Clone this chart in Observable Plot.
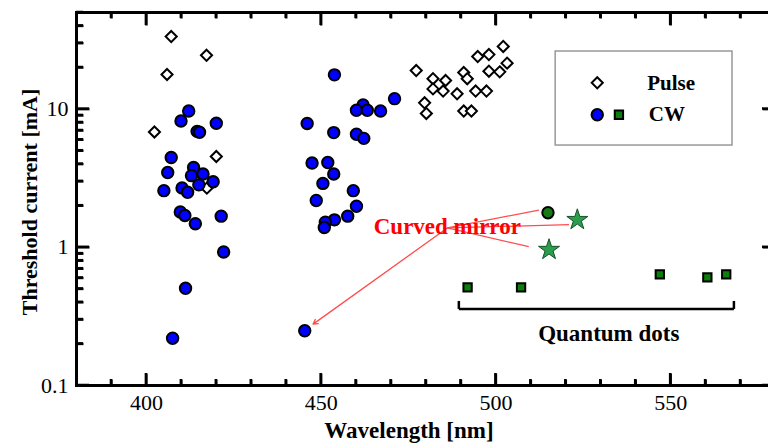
<!DOCTYPE html>
<html>
<head>
<meta charset="utf-8">
<script src="https://cdn.jsdelivr.net/npm/d3@7"></script>
<script src="https://cdn.jsdelivr.net/npm/@observablehq/plot@0.6"></script>
<style>
  html, body { margin: 0; padding: 0; background: #fff; }
</style>
</head>
<body>
<div id="chart"></div>
<script>
// Threshold current of GaN-based lasers vs. emission wavelength

// Pulsed operation: wavelength (nm) and threshold current (mA)
const pulseWavelength = [407.1, 417.2, 405.9, 402.3, 420.0, 417.3,
  477.2, 482.0, 485.6, 482.0, 484.9, 488.9, 490.8, 491.8, 479.6, 480.1,
  490.8, 494.2, 497.3, 493.0, 494.8, 498.0, 502.1, 498.0, 501.1, 503.2];
const pulseCurrent = [33.5, 24.5, 17.8, 6.83, 4.54, 2.68,
  19.0, 16.6, 16.1, 14.0, 13.5, 12.9, 18.4, 16.6, 11.1, 9.3,
  9.68, 13.5, 13.5, 9.68, 24.0, 24.8, 28.4, 18.8, 18.6, 21.5];

// CW operation, quantum wells
const cwWavelength = [412.1, 409.9, 414.5, 415.2, 420.0, 407.1, 406.1, 405.0,
  413.5, 412.9, 416.2, 419.1, 415.0, 410.2, 411.8,
  409.7, 411.0, 414.0, 421.4, 422.1, 411.2, 407.5,
  453.8, 471.0, 462.0, 460.1, 463.2, 467.0, 446.0, 453.6, 460.1, 462.2,
  447.4, 451.9, 453.6, 450.5, 459.2, 448.6, 460.1, 457.6, 453.8, 451.2,
  450.9, 445.3];
const cwCurrent = [9.68, 8.2, 6.9, 6.8, 7.89, 4.46, 3.48, 2.57,
  3.78, 3.3, 3.39, 2.98, 2.83, 2.69, 2.5,
  1.8, 1.7, 1.48, 1.68, 0.925, 0.505, 0.22,
  17.7, 11.9, 10.7, 9.8, 9.8, 9.68, 7.87, 6.76, 6.58, 6.14,
  4.07, 4.11, 3.39, 2.9, 2.57, 2.18, 1.98, 1.68, 1.58, 1.52,
  1.39, 0.249];

// CW operation, quantum dots
const qdWavelength = [491.9, 507.2, 546.9, 560.5, 565.9];
const qdCurrent = [0.513, 0.513, 0.636, 0.605, 0.636];

// Curved-mirror devices
const mirrorDotWavelength = [514.9];
const mirrorDotCurrent = [1.78];
const mirrorStarWavelength = [523.3, 515.2];
const mirrorStarCurrent = [1.58, 0.96];

// Axis ticks
const xMajor = [400, 450, 500, 550];
const xMinor = [390, 410, 420, 430, 440, 460, 470, 480, 490, 510, 520, 530, 540, 560, 570];
const yMajor = [0.1, 1, 10];
const yMinor = [0.2, 0.3, 0.4, 0.5, 0.6, 0.7, 0.8, 0.9, 2, 3, 4, 5, 6, 7, 8, 9, 20, 30, 40, 50];

// Annotations
const mirrorLabel = {text: "Curved mirror", x: 486.1, y: 1.42};
const mirrorFrom = {x: 486.1, y: 1.38};
const mirrorTargets = [
  {x: 512.3, y: 1.86},
  {x: 520.9, y: 1.46},
  {x: 509.4, y: 1.01}
];
const mirrorArrowEnd = {x: 447.7, y: 0.278};
const qdLabel = {text: "Quantum dots", x: 532.3, y: 0.2355};
const qdBracket = {x1: 489.4, x2: 568.1, y: 0.358, yEnd: 0.409};

// Legend
const legendBox = {x1: 517.1, x2: 567.7, y1: 5.45, y2: 26.1};
const legendItems = [
  {label: "Pulse", x: 529.0, y: 15.5, tx: 543.3},
  {label: "CW", x: 529.0, y: 9.1, tx: 543.75, sx: 535.2}
];

const zip = (xs, ys) => xs.map((x, i) => ({x, y: ys[i]}));
const pulse = zip(pulseWavelength, pulseCurrent);
const cw = zip(cwWavelength, cwCurrent);
const qd = zip(qdWavelength, qdCurrent);
const mirrorDot = zip(mirrorDotWavelength, mirrorDotCurrent);
const mirrorStar = zip(mirrorStarWavelength, mirrorStarCurrent);

const serif = "Liberation Serif";
const red = "#ff0000";
const redLine = "#ff4d4d";

// layout
const W = 768, H = 445, ML = 76, MR = -7, MT = 12, MB = 60;
const xDomain = [380, 580];
const yDomain = [0.1, 50];
const FW = W - ML - MR, FH = H - MT - MB;

// convert a tick length in pixels into an offset along each scale
const xStep = px => px * (xDomain[1] - xDomain[0]) / FW;
const yShift = (v, px) => v * 10 ** (px * Math.log10(yDomain[1] / yDomain[0]) / FH);

const tickStyle = {stroke: "#000", strokeWidth: 2.5};
const ticksBottom = (values, len) => Plot.link(values.map(v => ({v})), {x1: "v", x2: "v", y1: () => yDomain[0], y2: () => yShift(yDomain[0], len), ...tickStyle});
const ticksTop = (values, len) => Plot.link(values.map(v => ({v})), {x1: "v", x2: "v", y1: () => yDomain[1], y2: () => yShift(yDomain[1], -len), ...tickStyle});
const ticksLeft = (values, len) => Plot.link(values.map(v => ({v})), {x1: () => xDomain[0], x2: () => xDomain[0] + xStep(len), y1: "v", y2: "v", ...tickStyle});
const ticksRight = (values, len) => Plot.link(values.map(v => ({v})), {x1: () => xDomain[1], x2: () => xDomain[1] - xStep(len), y1: "v", y2: "v", ...tickStyle});

const chart = Plot.plot({
  width: W,
  height: H,
  marginLeft: ML,
  marginRight: MR,
  marginTop: MT,
  marginBottom: MB,
  style: {fontFamily: serif, background: "#fff", color: "#000"},
  x: {domain: xDomain},
  y: {type: "log", domain: yDomain},
  marks: [
    // tick labels
    Plot.axisX(xMajor, {anchor: "bottom", tickSize: 0, tickPadding: 9, fontSize: 22, fontFamily: serif, label: null, tickFormat: d => String(d)}),
    Plot.axisY(yMajor, {anchor: "left", tickSize: 0, tickPadding: 8, fontSize: 22, fontFamily: serif, label: null, tickFormat: d => (d < 1 ? "0.1" : String(d))}),
    // axis titles
    Plot.text(["Threshold current [mA]"], {frameAnchor: "left", textAnchor: "middle", dx: -47, dy: 3, rotate: -90, fontSize: 22, fontWeight: "bold", fontFamily: serif}),
    Plot.text(["Wavelength [nm]"], {frameAnchor: "bottom", textAnchor: "middle", dx: -17, dy: 52, lineAnchor: "bottom", fontSize: 23, fontWeight: "bold", fontFamily: serif}),

    // legend
    Plot.rect([legendBox], {x1: "x1", x2: "x2", y1: "y1", y2: "y2", fill: "#fff", stroke: "#999", strokeWidth: 1.5}),
    Plot.dot([legendItems[0]], {x: "x", y: "y", symbol: "diamond2", r: 5, fill: "#fff", stroke: "#000", strokeWidth: 2}),
    Plot.dot([legendItems[1]], {x: "x", y: "y", r: 5.7, fill: "#0000ff", stroke: "#000", strokeWidth: 2}),
    Plot.dot([legendItems[1]], {x: "sx", y: "y", symbol: "square2", r: 5.3, fill: "#0a800a", stroke: "#000", strokeWidth: 2}),
    Plot.text(legendItems, {x: "tx", y: "y", text: "label", textAnchor: "start", fontSize: 21, fontWeight: "bold", fontFamily: serif}),

    // annotation lines
    Plot.link(mirrorTargets, {x1: () => mirrorFrom.x, y1: () => mirrorFrom.y, x2: "x", y2: "y", stroke: redLine, strokeWidth: 1.3}),
    Plot.arrow([mirrorArrowEnd], {x1: () => mirrorFrom.x, y1: () => mirrorFrom.y, x2: "x", y2: "y", stroke: redLine, strokeWidth: 1.3, headLength: 6}),

    // data
    Plot.dot(pulse, {x: "x", y: "y", symbol: "diamond2", r: 5, fill: "#fff", stroke: "#000", strokeWidth: 2}),
    Plot.dot(cw, {x: "x", y: "y", r: 5.7, fill: "#0000ff", stroke: "#000", strokeWidth: 2}),
    Plot.dot(qd, {x: "x", y: "y", symbol: "square2", r: 5.3, fill: "#0a800a", stroke: "#000", strokeWidth: 2}),
    Plot.dot(mirrorDot, {x: "x", y: "y", r: 5.7, fill: "#157a15", stroke: "#000", strokeWidth: 2}),
    Plot.dot(mirrorStar, {x: "x", y: "y", symbol: "star", r: 6.6, fill: "#2a9e4c", stroke: "#17502a", strokeWidth: 1}),

    // bracket for quantum dots
    Plot.link([qdBracket], {x1: "x1", x2: "x2", y1: "y", y2: "y", stroke: "#000", strokeWidth: 2.5}),
    Plot.link([qdBracket], {x1: "x1", x2: "x1", y1: "y", y2: "yEnd", stroke: "#000", strokeWidth: 2.5}),
    Plot.link([qdBracket], {x1: "x2", x2: "x2", y1: "y", y2: "yEnd", stroke: "#000", strokeWidth: 2.5}),

    // annotation labels
    Plot.text([mirrorLabel], {x: "x", y: "y", text: "text", fill: red, fontSize: 23, fontWeight: "bold", fontFamily: serif}),
    Plot.text([qdLabel], {x: "x", y: "y", text: "text", fill: "#000", fontSize: 23, fontWeight: "bold", fontFamily: serif}),

    // inward ticks on all four sides
    ticksBottom(xMajor, 12),
    ticksBottom(xMinor, 6),
    ticksTop(xMajor, 13),
    ticksTop(xMinor, 6),
    ticksLeft(yMajor, 13),
    ticksLeft(yMinor, 7),
    ticksRight(yMajor, 13),
    ticksRight(yMinor, 7),

    Plot.frame({stroke: "#000", strokeWidth: 3})
  ]
});

document.getElementById("chart").appendChild(chart);

// inward ticks, also placed through the plot's own scales
try {
  const sx = chart.scale("x"), sy = chart.scale("y");
  const g = d3.select(chart).append("g").attr("stroke", "#000").attr("stroke-width", 2.5);
  const line = (x1, y1, x2, y2) => g.append("line").attr("x1", x1).attr("y1", y1).attr("x2", x2).attr("y2", y2);
  const yB = sy.apply(yDomain[0]), yT = sy.apply(yDomain[1]);
  const xL = sx.apply(xDomain[0]), xR = sx.apply(xDomain[1]);
  [[xMajor, 12, 13], [xMinor, 6, 6]].forEach(([vals, lb, lt]) => vals.forEach(v => {
    const px = sx.apply(v);
    line(px, yB, px, yB - lb);
    line(px, yT, px, yT + lt);
  }));
  [[yMajor, 13], [yMinor, 7]].forEach(([vals, len]) => vals.forEach(v => {
    const py = sy.apply(v);
    line(xL, py, xL + len, py);
    line(xR, py, xR - len, py);
  }));
} catch (e) {
  console.error(e);
}
</script>
</body>
</html>
